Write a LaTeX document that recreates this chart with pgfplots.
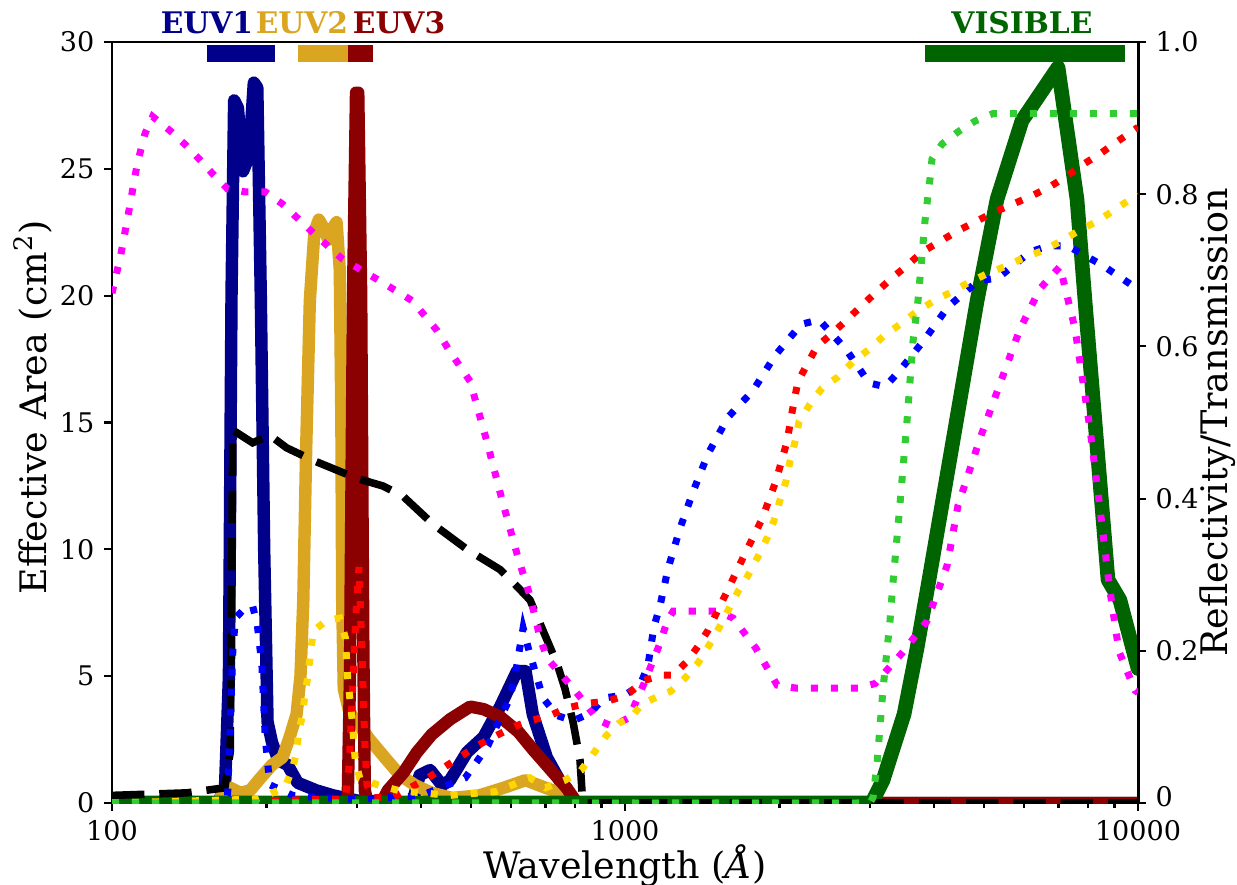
\documentclass[border=0pt]{standalone}
\usepackage{fontspec}
\setmainfont{DejaVu Serif}
\usepackage{pgfplots}
\pgfplotsset{compat=1.18}

\definecolor{euvone}{RGB}{0,0,139}
\definecolor{euvtwo}{RGB}{218,165,32}
\definecolor{euvthree}{RGB}{139,0,0}
\definecolor{visgreen}{RGB}{0,100,0}
\definecolor{limeg}{RGB}{50,205,50}
\definecolor{goldy}{RGB}{255,215,0}
\definecolor{magn}{RGB}{255,0,255}
\definecolor{bluedot}{RGB}{0,0,255}
\definecolor{reddot}{RGB}{255,0,0}

\begin{document}
\begin{tikzpicture}
\useasboundingbox (-41.44pt,-29.97pt) rectangle (416.25pt,297.11pt);
\pgfplotsset{
  every axis/.append style={
    width=379.62pt, height=281.57pt, scale only axis,
    at={(0,0)}, anchor=south west,
    xmode=log, xmin=100, xmax=10000,
    axis line style={line width=1.1pt},
    tick align=outside,
    major tick length=3pt, minor tick length=1.8pt,
    every tick/.style={black, line width=0.8pt},
    /pgf/number format/assume math mode=true,
    tick label style={font=\fontsize{10}{12}\selectfont},
    label style={font=\fontsize{13.5}{16}\selectfont},
  },
  area/.style={line width=4.6pt, line join=round, line cap=round},
  refl/.style={line width=2.6pt, dash pattern=on 2.6pt off 4.8pt},
  band/.style={line width=6.3pt},
}

% effective area, left axis
\begin{axis}[name=main,
  ymin=0, ymax=30, ytick={0,5,...,30},
  xtick={100,1000,10000}, xticklabels={100,1000,10000},
  xtick pos=left, ytick pos=left,
  xlabel={Wavelength (\textit{Å})},
  ylabel={Effective Area (cm\textsuperscript{2})},
  xlabel style={at={(axis description cs:0.5,-0.082)}, anchor=center},
  ylabel style={at={(axis description cs:-0.077,0.52)}, anchor=center},
]
% EUV1
\addplot[area, euvone] coordinates {
(100,0)(160,0)(166,0.5)(169,5)(171,20)(173,27.7)(176,27.4)(180,24.9)(185,25.5)
(189,28.4)(192,28.2)(195,20)(198,10)(201,3.2)(205,2.4)(210,1.8)(215,1.6)(220,1.5)
(230,0.8)(250,0.5)(270,0.3)(300,0.1)(330,0)(385,0)(398,1.1)(417,1.3)(440,0.7)
(456,0.9)(492,2.0)(530,2.6)(571,3.8)(616,5.2)(640,5.2)(661,3.5)(704,1.8)(769,0.4)
(800,0)(10000,0)};
% EUV2
\addplot[area, euvtwo] coordinates {
(100,0)(160,0)(165,0.4)(170,0.6)(178,0.4)(186,0.5)(195,1.0)(205,1.5)(215,1.8)
(222,2.6)(229,3.5)(233,5)(236,8)(239,13.9)(243,19.8)(248,22.5)(253,23.0)(258,22.7)
(264,22.2)(270,22.7)(274,22.9)(278,21)(280,15)(281,8)(283,4.5)(290,3.6)(305,3.0)
(318,2.5)(340,1.8)(364,1.1)(390,0.7)(420,0.4)(460,0.2)(520,0.3)(580,0.6)(640,0.9)
(700,0.6)(770,0.3)(800,0)(10000,0)};
% EUV3
\addplot[area, euvthree] coordinates {
(100,0)(288,0)(291,5)(295,20)(299,28)(302,28.0)(306,20)(309,6)(311,0.5)(315,0)
(335,0)(345,0.5)(370,1.2)(393,2.0)(420,2.7)(456,3.3)(499,3.8)(530,3.7)(571,3.4)
(620,2.8)(662,2.1)(710,1.4)(769,0.6)(806,0)(10000,0)};
% VISIBLE
\addplot[area, visgreen, line width=5.4pt] coordinates {
(100,0)(3000,0)(3044,0.1)(3184,0.9)(3499,3.5)(3709,6.1)(3914,8.8)(4360,14.3)
(4856,19.8)(5311,23.8)(5941,26.9)(6985,29.0)(7605,23.8)(7883,19.8)(8740,8.8)
(9220,8.0)(10000,5.3)};
% total
\addplot[black, line width=2.8pt, dash pattern=on 12pt off 5.5pt] coordinates {
(100,0.3)(140,0.4)(166,0.6)(170,2)(172,14.7)(188,14.2)(203,14.5)(219,14.0)
(247,13.5)(300,12.8)(337,12.5)(369,12.1)(422,11.0)(492,10.0)(571,9.2)(605,8.7)
(653,8.0)(692,6.8)(737,5.5)(764,4.5)(792,3.2)(817,1.7)(826,0.2)(835,0)(10000,0)};
% passbands
\addplot[band, euvone] coordinates {(153,29.54)(208,29.54)};
\addplot[band, euvtwo] coordinates {(230,29.54)(288,29.54)};
\addplot[band, euvthree] coordinates {(288,29.54)(323,29.54)};
\addplot[band, visgreen] coordinates {(3844,29.54)(9434,29.54)};
\end{axis}

% reflectivity / transmission, right axis
\begin{axis}[
  ymin=0, ymax=1,
  ytick={0,0.2,0.4,0.6,0.8,1.0},
  yticklabels={\raisebox{5pt}{0},0.2,0.4,0.6,0.8,1.0},
  hide x axis, axis y line*=right,
  ylabel={Reflectivity/Transmission},
  ylabel style={at={(axis description cs:1.078,0.5)}, anchor=center},
]
\addplot[refl, magn] coordinates {
(100,0.67)(104,0.72)(108,0.78)(112,0.84)(116,0.88)(120,0.902)(130,0.883)(139,0.865)
(148,0.846)(157,0.827)(168,0.807)(182,0.803)(199,0.803)(215,0.787)(245,0.751)
(281,0.715)(329,0.688)(385,0.660)(430,0.621)(452,0.597)(499,0.554)(538,0.475)
(576,0.398)(619,0.322)(653,0.272)(683,0.217)(705,0.190)(792,0.151)(836,0.131)
(886,0.109)(943,0.101)(1018,0.112)(1089,0.157)(1170,0.210)(1210,0.240)(1241,0.252)
(1511,0.252)(1624,0.243)(1801,0.203)(1979,0.155)(2154,0.151)(2846,0.151)(3072,0.157)
(3467,0.197)(3879,0.239)(4244,0.312)(4458,0.391)(4920,0.479)(5383,0.551)(5888,0.623)
(6442,0.676)(7046,0.705)(7538,0.623)(8060,0.492)(8430,0.387)(8820,0.278)(9183,0.199)
(9867,0.148)(10000,0.145)};
\addplot[refl, bluedot] coordinates {
(100,0)(165,0)(168,0.01)(170,0.10)(172,0.20)(174,0.243)(181,0.255)(188,0.259)
(192,0.234)(196,0.181)(199,0.085)(203,0.024)(225,0.010)(251,0.007)(300,0.005)
(398,0.009)(488,0.033)(515,0.055)(541,0.076)(563,0.102)(597,0.138)(615,0.18)
(633,0.230)(650,0.20)(692,0.138)(737,0.115)(792,0.108)(855,0.118)(910,0.138)
(1000,0.142)(1070,0.155)(1108,0.180)(1139,0.232)(1170,0.259)(1213,0.308)(1280,0.361)
(1357,0.409)(1452,0.459)(1588,0.507)(1777,0.542)(1961,0.588)(2204,0.629)(2389,0.635)
(2697,0.596)(2990,0.552)(3213,0.547)(3420,0.567)(3827,0.608)(4263,0.652)(4876,0.686)
(5335,0.690)(6158,0.724)(6678,0.732)(7303,0.732)(8550,0.706)(10000,0.675)};
\addplot[refl, reddot] coordinates {
(100,0)(285,0.005)(290,0.05)(294,0.14)(299,0.25)(303,0.31)(307,0.20)(311,0.08)
(314,0.024)(321,0.007)(353,0.007)(381,0.020)(413,0.033)(442,0.046)(483,0.063)
(517,0.076)(563,0.089)(611,0.101)(653,0.108)(714,0.115)(771,0.125)(847,0.131)
(927,0.134)(1009,0.142)(1089,0.161)(1180,0.168)(1241,0.168)(1321,0.186)(1388,0.206)
(1452,0.227)(1581,0.278)(1706,0.325)(1849,0.373)(1969,0.423)(2069,0.475)(2135,0.528)
(2174,0.554)(2263,0.576)(2367,0.600)(2532,0.617)(2708,0.635)(2897,0.654)(3098,0.672)
(3315,0.690)(3545,0.706)(3793,0.724)(4112,0.738)(4458,0.752)(4856,0.765)(5263,0.777)
(5706,0.787)(6214,0.798)(6740,0.810)(7270,0.824)(7810,0.839)(8430,0.853)(9100,0.869)
(10000,0.888)};
\addplot[refl, goldy] coordinates {
(100,0)(190,0.005)(200,0.010)(217,0.020)(224,0.042)(229,0.066)(231,0.092)(235,0.115)
(238,0.144)(241,0.168)(244,0.20)(247,0.226)(262,0.240)(278,0.243)(285,0.217)
(288,0.164)(294,0.108)(298,0.056)(304,0.033)(329,0.024)(364,0.016)(456,0.010)
(560,0.015)(653,0.033)(700,0.02)(764,0.030)(821,0.043)(870,0.066)(918,0.088)
(973,0.105)(1027,0.112)(1079,0.13)(1159,0.140)(1229,0.147)(1309,0.164)(1388,0.184)
(1458,0.207)(1525,0.230)(1588,0.253)(1661,0.278)(1737,0.299)(1817,0.324)(1892,0.348)
(1952,0.371)(2005,0.398)(2060,0.423)(2097,0.449)(2145,0.475)(2184,0.501)(2294,0.524)
(2421,0.545)(2602,0.560)(2783,0.580)(2990,0.596)(3198,0.614)(3437,0.629)(3709,0.646)
(3984,0.659)(4340,0.672)(4705,0.685)(5100,0.696)(5555,0.706)(6022,0.717)(6528,0.726)
(7110,0.739)(7710,0.753)(8360,0.765)(9020,0.780)(10000,0.80)};
\addplot[refl, limeg] coordinates {
(100,0)(3000,0)(3044,0.007)(3098,0.050)(3184,0.15)(3286,0.24)(3330,0.29)(3437,0.394)
(3545,0.501)(3642,0.606)(3725,0.660)(3844,0.765)(3931,0.820)(3966,0.846)(4150,0.866)
(4458,0.882)(4810,0.896)(5216,0.906)(10000,0.906)};
\end{axis}

\begin{scope}[font=\fontsize{11}{13}\selectfont\bfseries]
\node[text=euvone] at ([xshift=35.15pt,yshift=7pt]main.north west) {EUV1};
\node[text=euvtwo] at ([xshift=70.3pt,yshift=7pt]main.north west) {EUV2};
\node[text=euvthree] at ([xshift=106.2pt,yshift=7pt]main.north west) {EUV3};
\node[text=visgreen] at ([xshift=336.7pt,yshift=7pt]main.north west) {VISIBLE};
\end{scope}
\end{tikzpicture}
\end{document}
